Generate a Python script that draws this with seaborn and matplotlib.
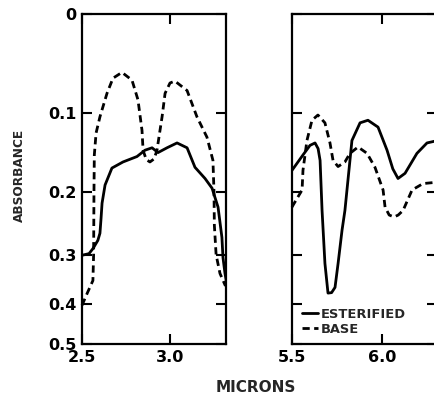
import numpy as np
import pandas as pd
import matplotlib
matplotlib.use("Agg")
import matplotlib.pyplot as plt
import seaborn as sns

# Curvas (micras, absorbancia)
izq_base_x = [2.500, 2.530, 2.562, 2.566, 2.568, 2.570, 2.580, 2.602, 2.642, 2.676, 2.727,
              2.784, 2.818, 2.841, 2.847, 2.865, 2.886, 2.910, 2.926, 2.955, 2.972, 3.000,
              3.028, 3.097, 3.153, 3.210, 3.244, 3.250, 3.252, 3.262, 3.284, 3.315]
izq_base_y = [0.402, 0.375, 0.349, 0.300, 0.200, 0.150, 0.123, 0.104, 0.078, 0.062, 0.056,
              0.064, 0.085, 0.120, 0.144, 0.156, 0.159, 0.155, 0.144, 0.104, 0.078, 0.067,
              0.065, 0.075, 0.104, 0.128, 0.157, 0.200, 0.250, 0.300, 0.335, 0.360]

izq_est_x = [2.500, 2.540, 2.5625, 2.590, 2.602, 2.608, 2.614, 2.631, 2.670, 2.733, 2.8125,
             2.858, 2.898, 2.932, 2.983, 3.040, 3.097, 3.142, 3.199, 3.239, 3.273, 3.295,
             3.301, 3.3125, 3.320]
izq_est_y = [0.301, 0.298, 0.289, 0.275, 0.263, 0.240, 0.216, 0.190, 0.167, 0.159, 0.152,
             0.144, 0.141, 0.147, 0.141, 0.135, 0.141, 0.166, 0.181, 0.1945, 0.222, 0.270,
             0.305, 0.335, 0.350]

der_base_x = [5.500, 5.506, 5.556, 5.561, 5.583, 5.611, 5.644, 5.683, 5.711, 5.728, 5.756,
              5.794, 5.822, 5.867, 5.917, 5.961, 6.006, 6.017, 6.040, 6.067, 6.090, 6.117,
              6.167, 6.228, 6.310]
der_base_y = [0.222, 0.219, 0.197, 0.170, 0.132, 0.108, 0.102, 0.111, 0.135, 0.157, 0.165,
              0.159, 0.148, 0.140, 0.148, 0.166, 0.197, 0.222, 0.234, 0.237, 0.234, 0.227,
              0.197, 0.188, 0.186]

der_est_x = [5.500, 5.561, 5.600, 5.628, 5.645, 5.656, 5.667, 5.683, 5.700, 5.720, 5.739,
             5.756, 5.778, 5.794, 5.811, 5.833, 5.878, 5.922, 5.978, 6.028, 6.060, 6.089,
             6.128, 6.194, 6.250, 6.310]
der_est_y = [0.170, 0.150, 0.138, 0.135, 0.142, 0.157, 0.227, 0.316, 0.375, 0.374, 0.363,
             0.316, 0.258, 0.227, 0.183, 0.132, 0.111, 0.108, 0.116, 0.144, 0.168, 0.181,
             0.174, 0.148, 0.135, 0.132]

y_ticks = [0, 0.1, 0.2, 0.3, 0.4, 0.5]
y_labels = ['0', '0.1', '0.2', '0.3', '0.4', '0.5']

sns.set_style('ticks')
plt.rcParams['font.family'] = ['DejaVu Sans']
plt.rcParams['font.weight'] = 'bold'

fig = plt.figure(figsize=(4.34, 3.94), dpi=100)
ax1 = fig.add_axes([82 / 434, 50 / 394, 144 / 434, 330 / 394])
ax2 = fig.add_axes([292 / 434, 50 / 394, 145 / 434, 330 / 394])

# eje lineal en transmitancia (decreciente con la absorbancia), etiquetas en absorbancia
def adelante(a):
    return 10.0 ** (-np.asarray(a, dtype=float)) - 1

def inversa(t):
    t = np.clip(np.asarray(t, dtype=float), -0.999999, 10)
    return -np.log10(t + 1)

paneles = [
    (ax1, izq_est_x, izq_est_y, izq_base_x, izq_base_y, (2.5, 2.5 + 144 / 176), [2.5, 3.0]),
    (ax2, der_est_x, der_est_y, der_base_x, der_base_y, (5.5, 5.5 + 145 / 180), [5.5, 6.0]),
]

for ax, ex, ey, bx, by, xlim, xt in paneles:
    df_e = pd.DataFrame({'Micras': ex, 'Absorbancia': ey})
    df_b = pd.DataFrame({'Micras': bx, 'Absorbancia': by})
    sns.lineplot(data=df_e, x='Micras', y='Absorbancia', ax=ax, sort=False, estimator=None,
                 color='black', lw=2.0, label='ESTERIFIED')
    sns.lineplot(data=df_b, x='Micras', y='Absorbancia', ax=ax, sort=False, estimator=None,
                 color='black', lw=2.0, linestyle=(0, (2.6, 1.6)), label='BASE')
    ax.lines[-1].set_clip_on(False)
    ax.set_yscale('function', functions=(adelante, inversa))
    ax.set_ylim(0, 0.5)
    ax.set_xlim(*xlim)
    ax.set_yticks(y_ticks)
    ax.set_xticks(xt)
    ax.set_xticklabels([f'{v:.1f}' for v in xt])
    ax.set_xlabel('')
    ax.set_ylabel('')
    ax.tick_params(direction='in', length=7, width=1.5, top=True, right=True,
                   labelsize=11.5, pad=4, colors='black')
    for s in ax.spines.values():
        s.set_linewidth(1.6)
        s.set_color('black')
    ax.get_legend().remove()

ax1.set_yticklabels(y_labels)
ax2.set_yticklabels([])

ley = ax2.legend(loc='lower left', bbox_to_anchor=(0.07, 0.025), frameon=False,
                 handlelength=1.25, handletextpad=0.15, labelspacing=0.15,
                 borderpad=0, borderaxespad=0, prop={'size': 9.4, 'weight': 'bold'})

fig.text(19 / 434, 1 - 175 / 394, 'ABSORBANCE', rotation=90, ha='center', va='center',
         fontsize=8.7, fontweight='bold')
fig.text(256 / 434, 1 - 387 / 394, 'MICRONS', ha='center', va='center',
         fontsize=11, fontweight='bold')

fig.savefig('out.png', dpi=100)
